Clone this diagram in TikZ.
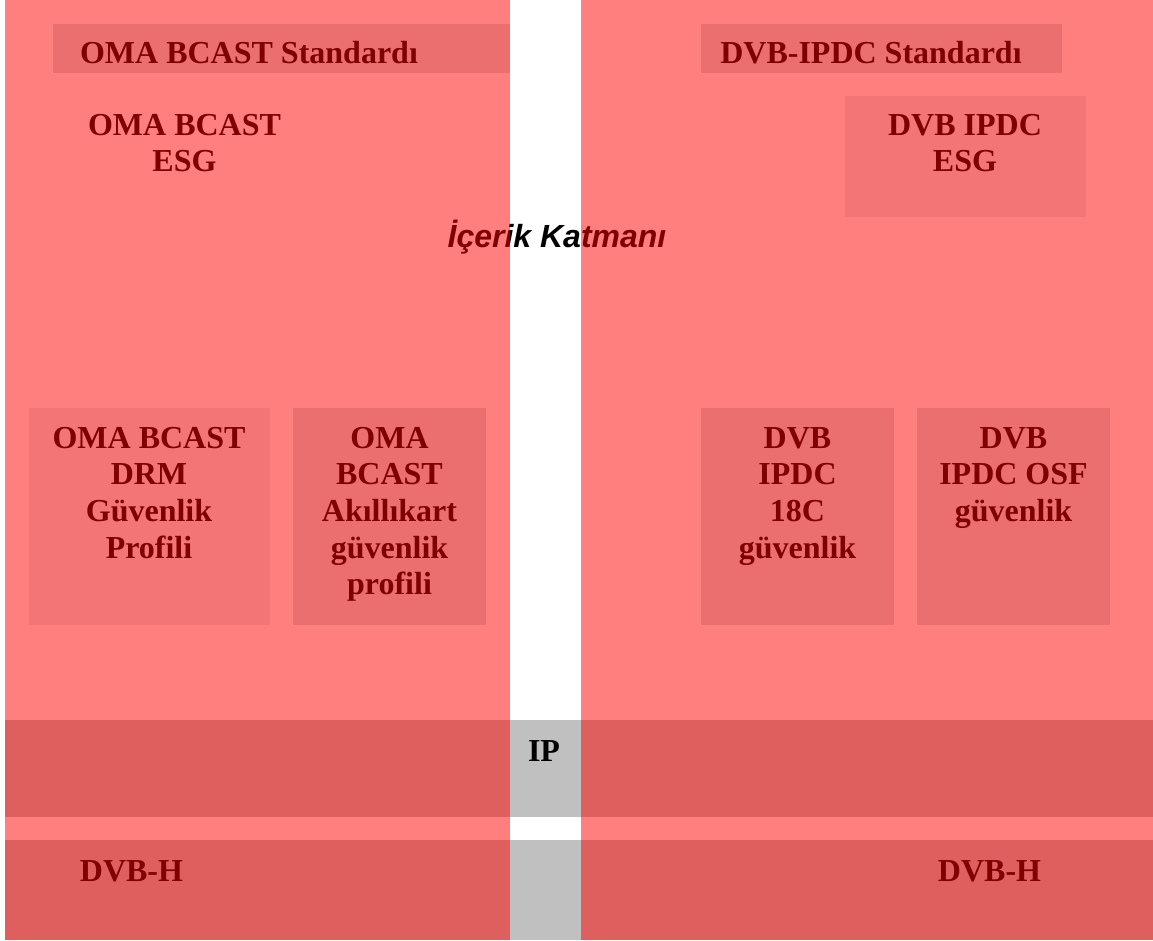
\documentclass[tikz,border=0pt]{standalone}
\usepackage{fontspec}
\setmainfont{Liberation Serif}
\newfontfamily\titlefont{Liberation Sans}
\definecolor{uA}{RGB}{217,224,224}
\definecolor{uB}{RGB}{233,236,236}
\definecolor{uband}{RGB}{192,192,192}
\tikzset{
  boxu/.style={inner sep=0pt, outer sep=0pt, draw=none},
  lbl/.style={inner sep=0pt, align=center, font=\fontsize{32}{36.6}\selectfont\bfseries, text=black},
  redveil/.style={fill=red, fill opacity=0.5, draw=none}
}
\begin{document}
\begin{tikzpicture}[x=1pt,y=-1pt]
\useasboundingbox (0,0) rectangle (1153,940);
\fill[white] (0,0) rectangle (1153,940);
% underlying layer bands
\fill[uband] (5,720) rectangle (1153,817);
\fill[uband] (5,840) rectangle (1153,940);
% boxes
\node[boxu, fill=uA, minimum width=457pt, minimum height=49pt] (hdrL) at (281.5,48.5) {};
\node[boxu, fill=uA, minimum width=361pt, minimum height=49pt] (hdrR) at (881.5,48.5) {};
\node[boxu, fill=uB, minimum width=241pt, minimum height=121pt] (esgR) at (965.5,156.5) {};
\node[boxu, fill=uB, minimum width=241pt, minimum height=217pt] (drm) at (149.5,516.5) {};
\node[boxu, fill=uA, minimum width=193pt, minimum height=217pt] (akk) at (389.5,516.5) {};
\node[boxu, fill=uA, minimum width=193pt, minimum height=217pt] (c18) at (797.5,516.5) {};
\node[boxu, fill=uA, minimum width=193pt, minimum height=217pt] (osf) at (1013.5,516.5) {};
% texts
\node[lbl, anchor=base] (thdrL) at (249,63) {OMA BCAST Standardı};
\node[lbl, anchor=base] (thdrR) at (871,63) {DVB-IPDC Standardı};
\node[lbl, anchor=north] (tesgL) at (184.5,109.4) {\strut OMA BCAST\\ESG};
\node[lbl, anchor=north] (tesgR) at (965,109.4) {\strut DVB IPDC\\ESG};
\node[lbl, anchor=north] (tdrm) at (149,422.4) {\strut OMA BCAST\\DRM\\Güvenlik\\Profili};
\node[lbl, anchor=north] (takk) at (389.5,422.4) {\strut OMA\\BCAST\\Akıllıkart\\güvenlik\\profili};
\node[lbl, anchor=north] (tc18) at (797.5,422.4) {\strut DVB\\IPDC\\18C\\güvenlik};
\node[lbl, anchor=north] (tosf) at (1013.5,422.4) {\strut DVB\\IPDC OSF\\güvenlik};
\node[lbl, anchor=base] (tdvbhL) at (131.5,881) {DVB-H};
\node[lbl, anchor=base] (tdvbhR) at (989.5,881) {DVB-H};
\node[inner sep=0pt, anchor=base, font=\titlefont\fontsize{32}{36}\selectfont\bfseries\itshape] (title) at (557,247) {İçerik Katmanı};
% translucent red panels
\fill[redveil] (5,0) rectangle (510,940);
\fill[redveil] (581,0) rectangle (1153,940);
% IP label in the uncovered grey column
\node[lbl, anchor=base] (tip) at (544,761) {IP};
\end{tikzpicture}
\end{document}
